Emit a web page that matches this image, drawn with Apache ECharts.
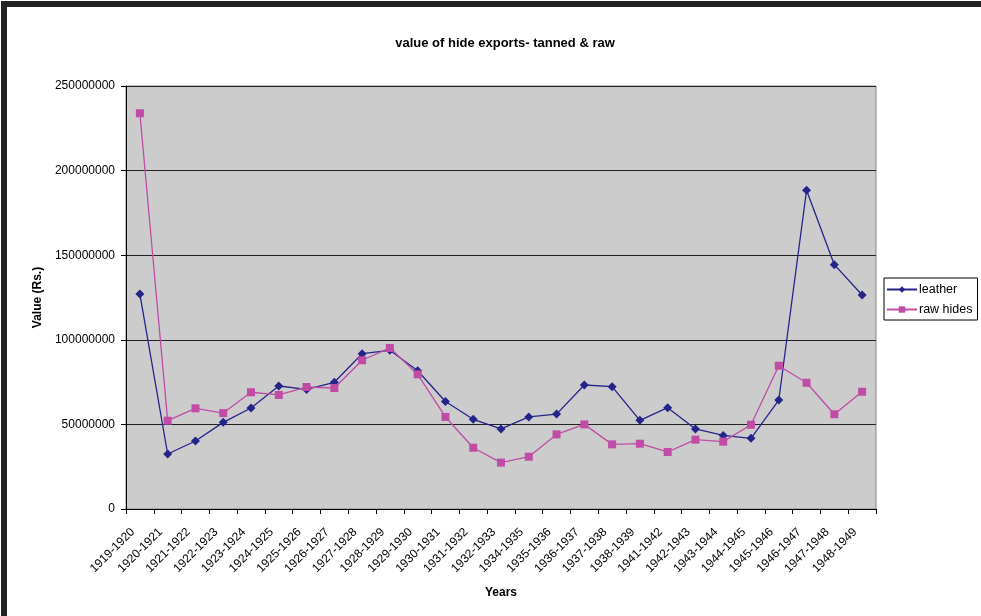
<!DOCTYPE html>
<html>
<head>
<meta charset="utf-8">
<script src="https://cdn.jsdelivr.net/npm/echarts@6/dist/echarts.min.js"></script>
<style>
  html, body { margin: 0; padding: 0; background: #fff; overflow: hidden; }
  #frame {
    position: absolute; left: 1px; top: 1px; width: 1100px; height: 700px;
    border-left: 6px solid #222; border-top: 6px solid #222;
  }
  #chart { position: absolute; left: 0; top: 0; width: 981px; height: 616px; }
</style>
</head>
<body>
<div id="frame"></div>
<div id="chart"></div>
<script>
// 年份分类
var years = [
  '1919-1920', '1920-1921', '1921-1922', '1922-1923', '1923-1924', '1924-1925',
  '1925-1926', '1926-1927', '1927-1928', '1928-1929', '1929-1930', '1930-1931',
  '1931-1932', '1932-1933', '1934-1935', '1935-1936', '1936-1937', '1937-1938',
  '1938-1939', '1941-1942', '1942-1943', '1943-1944', '1944-1945', '1945-1946',
  '1946-1947', '1947-1948', '1948-1949'
]
// leather
var leather = [
  127000000, 32500000, 40200000, 51200000, 59700000, 72700000,
  70700000, 74900000, 91800000, 93800000, 81700000, 63500000,
  53000000, 47300000, 54400000, 56100000, 73300000, 72300000,
  52400000, 59900000, 47300000, 43500000, 41800000, 64400000,
  188400000, 144400000, 126500000
]
// raw hides
var rawHides = [
  233900000, 52200000, 59500000, 56700000, 69000000, 67400000,
  72100000, 71500000, 87900000, 95200000, 79600000, 54400000,
  36200000, 27400000, 30900000, 44100000, 50000000, 38200000,
  38600000, 33700000, 41000000, 39800000, 49800000, 84700000,
  74600000, 56000000, 69300000
]
var yMax = 250000000
var yStep = 50000000

var chart = echarts.init(document.getElementById('chart'))
var font = 'Liberation Sans, Arial, sans-serif'
var option = {
  animation: false,
  title: {
    text: 'value of hide exports- tanned & raw',
    left: 500,
    textAlign: 'center',
    top: 32,
    textStyle: { fontFamily: font, fontSize: 13, fontWeight: 'bold', color: '#000' }
  },
  legend: {
    orient: 'vertical',
    left: 884,
    top: 278,
    itemGap: 7,
    itemWidth: 30,
    itemHeight: 8,
    padding: [5, 5, 4, 2],
    borderColor: '#000',
    borderWidth: 1,
    backgroundColor: '#fff',
    textStyle: { fontFamily: font, fontSize: 12.5, color: '#000', padding: [0, 0, 0, -3] },
    data: ['leather', 'raw hides']
  },
  grid: {
    left: 126, right: 105, top: 86, bottom: 107,
    show: true,
    backgroundColor: '#cccccc',
    borderColor: '#888',
    borderWidth: 1
  },
  xAxis: {
    type: 'category',
    data: years,
    boundaryGap: true,
    name: 'Years',
    nameLocation: 'middle',
    nameGap: 78,
    nameTextStyle: { fontFamily: font, fontSize: 12, fontWeight: 'bold', color: '#000' },
    axisLine: { lineStyle: { color: '#000' } },
    axisTick: { show: true, length: 5, lineStyle: { color: '#000' } },
    axisLabel: {
      rotate: 45, interval: 0, margin: 14, padding: [0, 10, 0, 0],
      fontFamily: font, fontSize: 12, color: '#000'
    }
  },
  yAxis: {
    type: 'value',
    min: 0,
    max: yMax,
    interval: yStep,
    name: 'Value (Rs.)',
    nameLocation: 'middle',
    nameGap: 82,
    nameTextStyle: { fontFamily: font, fontSize: 12, fontWeight: 'bold', color: '#000' },
    axisLine: { show: true, lineStyle: { color: '#000' } },
    axisTick: { show: true, length: 5, lineStyle: { color: '#000' } },
    axisLabel: {
      fontFamily: font, fontSize: 12, color: '#000', margin: 11,
      formatter: function (v) { return String(v) }
    },
    splitLine: { lineStyle: { color: '#222', width: 1 } }
  },
  series: [
    {
      name: 'leather',
      type: 'line',
      data: leather,
      symbol: 'diamond',
      symbolSize: 9,
      lineStyle: { color: '#24248a', width: 1.3 },
      itemStyle: { color: '#24248a' }
    },
    {
      name: 'raw hides',
      type: 'line',
      data: rawHides,
      symbol: 'rect',
      symbolSize: 8,
      lineStyle: { color: '#c04ca6', width: 1.3 },
      itemStyle: { color: '#c04ca6' }
    }
  ]
}
chart.setOption(option)
</script>
</body>
</html>
